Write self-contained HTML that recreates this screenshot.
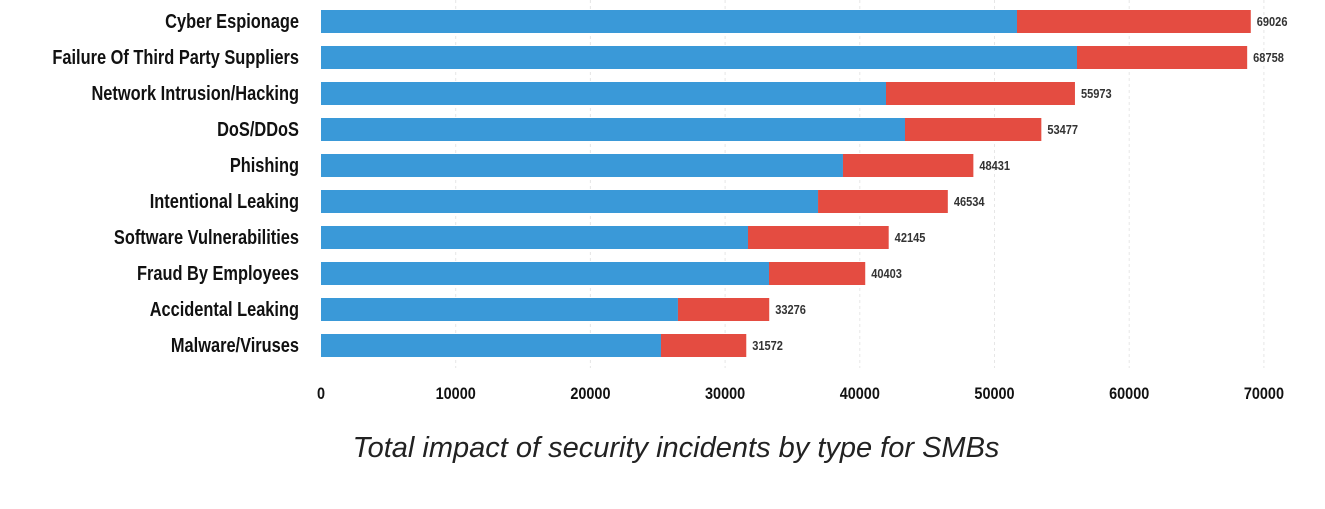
<!DOCTYPE html>
<html><head><meta charset="utf-8"><style>
body{margin:0;background:#fff;}
svg{display:block;}
text{font-family:"Liberation Sans",sans-serif;}
</style></head><body>
<svg id="chart" width="1325" height="509"></svg>
<script>
const categories=["Cyber Espionage","Failure Of Third Party Suppliers","Network Intrusion/Hacking","DoS/DDoS","Phishing","Intentional Leaking","Software Vulnerabilities","Fraud By Employees","Accidental Leaking","Malware/Viruses"];
const blueValues=[51670,56125,41945,43355,38750,36900,31700,33260,26500,25240];
const totals=[69026,68758,55973,53477,48431,46534,42145,40403,33276,31572];
const ticks=[0,10000,20000,30000,40000,50000,60000,70000];
const NS="http://www.w3.org/2000/svg";
const svg=document.getElementById('chart');
const x0=321, pxPer=134.7/10000;
const xs=v=>x0+v*pxPer;
const yTop=i=>10+i*36;
function mk(tag,attrs,txt){const e=document.createElementNS(NS,tag);for(const k in attrs)e.setAttribute(k,attrs[k]);if(txt!==undefined)e.textContent=txt;svg.appendChild(e);return e;}
ticks.forEach((t,i)=>{
  if(t>0){const g=mk('line',{x1:xs(t),x2:xs(t),y1:0,y2:368,stroke:'#e6e6e6','stroke-dasharray':'3,3'});
  
  }
  const l=mk('text',{x:xs(t),y:399,'text-anchor':'middle','font-size':'17','font-weight':'bold',fill:'#111',transform:`translate(${xs(t)},0) scale(0.85,1) translate(${-xs(t)},0)`},t);
  
  
});
categories.forEach((c,i)=>{
  const y=yTop(i);
  const b=mk('rect',{x:x0,y:y,width:xs(blueValues[i])-x0,height:23,fill:'#3a99d8'});
  
  
  const r=mk('rect',{x:xs(blueValues[i]),y:y,width:xs(totals[i])-xs(blueValues[i]),height:23,fill:'#e44c41'});
  
  
  const lab=mk('text',{x:299,y:y+18,'text-anchor':'end','font-size':'20','font-weight':'bold',fill:'#111',transform:`translate(299,0) scale(0.82,1) translate(-299,0)`},c);
  
  
  const vx=xs(totals[i])+6;
  const v=mk('text',{x:vx,y:y+16,'font-size':'13','font-weight':'bold',fill:'#333',transform:`translate(${vx},0) scale(0.85,1) translate(${-vx},0)`},totals[i]);
  
  
});
const t=mk('text',{x:676,y:457,'text-anchor':'middle','font-size':'29','font-style':'italic',fill:'#222'},'Total impact of security incidents by type for SMBs');


</script>
</body></html>
